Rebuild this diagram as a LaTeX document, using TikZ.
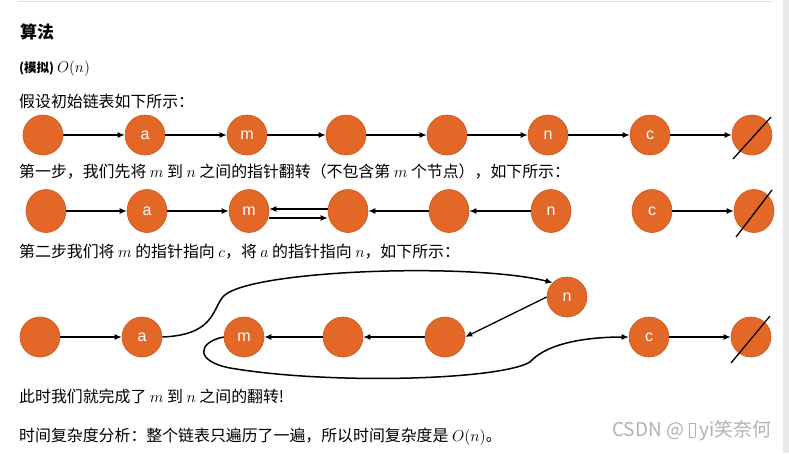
\RequirePackage{fix-cm}
\documentclass[tikz,border=0pt]{standalone}
\usepackage{fontspec}
\usetikzlibrary{arrows.meta,shapes.geometric}
\newfontfamily\cjk{Noto Sans CJK SC}
\newfontfamily\lblfont{Liberation Sans}
\definecolor{orng}{RGB}{227,104,40}
\definecolor{orngd}{RGB}{200,88,30}
\definecolor{wm}{RGB}{178,178,178}
\begin{document}
\begin{tikzpicture}[x=1pt,y=-1pt,
  nd/.style={circle,fill=orng,draw=orngd,line width=0.6pt,minimum size=40pt,inner sep=0pt,text=white,font=\lblfont\fontsize{16}{16}\selectfont},
  nde/.style={ellipse,fill=orng,draw=orngd,line width=0.6pt,minimum width=40pt,minimum height=43pt,inner sep=0pt,text=white,font=\lblfont\fontsize{16}{16}\selectfont},
  arr/.style={-{Latex[length=7pt,width=6pt]},line width=1.3pt,black},
  crv/.style={-{Latex[length=7pt,width=6pt]},line width=1.5pt,black},
  slash/.style={line width=1.3pt,black},
  txt/.style={anchor=west,inner sep=0pt,font=\cjk\fontsize{15.9}{16}\selectfont}]
\useasboundingbox (0,0) rectangle (789,453);
% frame elements
\fill[white] (0,0) rectangle (789,453);
\fill[black!9] (783,0) rectangle (789,453);
\draw[black!12,line width=1pt] (18,1) -- (773,1);

% texts
\node[txt,font=\cjk\bfseries\fontsize{17}{17}\selectfont] (t0) at (20,32) {算法};
\node[txt,font=\cjk\bfseries\fontsize{12.5}{13}\selectfont] (t1) at (19,69) {(模拟) \fontsize{15.5}{16}\selectfont$O(n)$};
\node[txt] (t2) at (19,101) {假设初始链表如下所示：};
\node[txt] (t3) at (19,172) {第一步，我们先将 $m$ 到 $n$ 之间的指针翻转（不包含第 $m$ 个节点），如下所示：};
\node[txt] (t4) at (19,252) {第二步我们将 $m$ 的指针指向 $c$，将 $a$ 的指针指向 $n$，如下所示：};
\node[txt] (t5) at (19,396) {此时我们就完成了 $m$ 到 $n$ 之间的翻转!};
\node[txt] (t6) at (19,437) {时间复杂度分析：整个链表只遍历了一遍，所以时间复杂度是 $O(n)$。};
\node[anchor=east,inner sep=0pt,text=wm,font=\cjk\fontsize{19}{19}\selectfont] (wmk) at (772,431) {CSDN @ {\setlength\fboxsep{0pt}\setlength\fboxrule{0.6pt}\fbox{\rule{0pt}{0.72em}\hspace{0.3em}}} yi笑奈何};

% row 1
\node[nd] (a1) at (43,135) {};
\node[nd] (b1) at (145,135) {a};
\node[nd] (c1) at (247,135) {m};
\node[nd] (d1) at (346,135) {};
\node[nd] (e1) at (447,135) {};
\node[nd] (f1) at (548,135) {n};
\node[nd] (g1) at (650,135) {c};
\node[nd] (h1) at (752,135) {};
\coordinate (s1a) at (733,159);
\coordinate (s1b) at (771,117);
\draw[slash] (s1a) -- (s1b);
\draw[arr] (a1) -- (b1);
\draw[arr] (b1) -- (c1);
\draw[arr] (c1) -- (d1);
\draw[arr] (d1) -- (e1);
\draw[arr] (e1) -- (f1);
\draw[arr] (f1) -- (g1);
\draw[arr] (g1) -- (h1);

% row 2
\node[nde] (a2) at (46,211) {};
\node[nde] (b2) at (147,211) {a};
\node[nde] (c2) at (249,211) {m};
\node[nde] (d2) at (348,211) {};
\node[nde] (e2) at (449,211) {};
\node[nde] (f2) at (551,211) {n};
\node[nde] (g2) at (652,211) {c};
\node[nde] (h2) at (754,211) {};
\coordinate (s2a) at (736,237);
\coordinate (s2b) at (772,190);
\draw[slash] (s2a) -- (s2b);
\draw[arr] (a2) -- (b2);
\draw[arr] (b2) -- (c2);
\draw[arr] ([yshift=2pt]d2.west) -- ([yshift=2pt]c2.east);
\draw[arr] ([yshift=-7pt]c2.east) -- ([yshift=-7pt]d2.west);
\draw[arr] (e2) -- (d2);
\draw[arr] (f2) -- (e2);
\draw[arr] (g2) -- (h2);

% row 3
\node[nd] (a3) at (40,337) {};
\node[nd] (b3) at (142,337) {a};
\node[nd] (c3) at (244,337) {m};
\node[nd] (d3) at (343,337) {};
\node[nd] (e3) at (445,337) {};
\node[nd] (f3) at (567,297) {n};
\node[nd] (g3) at (649,337) {c};
\node[nd] (h3) at (751,337) {};
\coordinate (s3a) at (731,363);
\coordinate (s3b) at (770,316);
\draw[slash] (s3a) -- (s3b);
\draw[arr] (a3) -- (b3);
\draw[arr] (d3) -- (c3);
\draw[arr] (e3) -- (d3);
\draw[arr] (f3.west) -- (e3.east);
\draw[arr] (g3) -- (h3);
\coordinate (k1) at (222,298);
\draw[crv] (b3.east) .. controls (212,335) and (212,312) .. (k1)
  .. controls (240,270) and (470,262) .. (f3.north west);
\coordinate (k2) at (230,368);
\coordinate (k3) at (530,362);
\draw[crv] (c3.west) .. controls (198,342) and (194,361) .. (k2)
  .. controls (330,385) and (500,380) .. (k3)
  .. controls (548,342) and (590,337) .. (g3.west);
\end{tikzpicture}
\end{document}
